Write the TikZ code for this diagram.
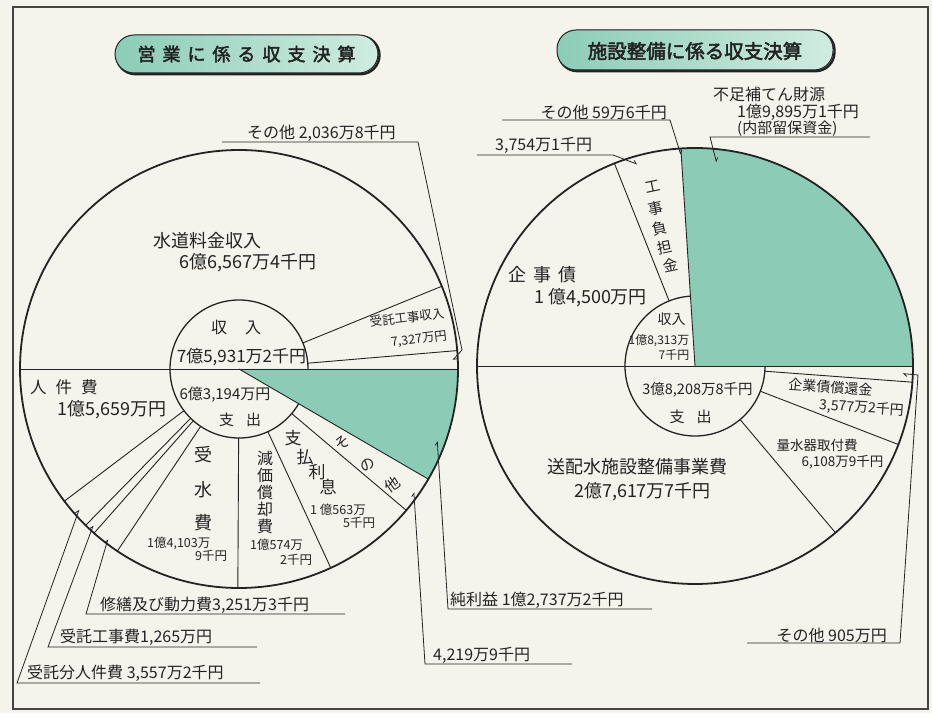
\documentclass[tikz,border=0pt]{standalone}
\usepackage{fontspec}
\setmainfont{Noto Sans CJK JP}
\newfontfamily\titlefont{Noto Sans CJK JP}[FakeBold=2.5]
\usetikzlibrary{calc,arrows.meta}
\definecolor{bg}{RGB}{245,244,236}
\definecolor{tealc}{RGB}{140,204,183}
\definecolor{teall}{RGB}{208,236,224}
\definecolor{ink}{RGB}{35,35,35}
\newcommand\fsz[1]{\fontsize{#1}{#1}\selectfont}
\begin{document}
\begin{tikzpicture}[x=1pt,y=1pt,
  every node/.style={inner sep=0pt, text=ink},
  pieouter/.style={draw=ink, line width=1.8pt},
  pieinner/.style={draw=ink, line width=1.3pt},
  wedge/.style={draw=ink, line width=0.9pt},
  lead/.style={draw=ink, line width=0.8pt},
  tipb/.style={-{Straight Barb[left,length=3pt,width=5pt]}},
  lab/.style={font=\fsz{16}},
  big/.style={font=\fsz{18}},
  mid/.style={font=\fsz{14}},
  small/.style={font=\fsz{13}},
  titlebox/.style={draw=ink, line width=1pt, rounded corners=19pt, left color=tealc, right color=teall},
  titleshadow/.style={draw=ink, line width=2.4pt, rounded corners=19pt}
]
\fill[bg] (0,0) rectangle (932,713);
\useasboundingbox (0,0) rectangle (932,713);
\draw[draw=ink!85, line width=1.2pt] (13,4) rectangle (928,706);

% ---------- titles ----------
\draw[titleshadow] (116.5,638.8) rectangle (379.5,676.8);
\shadedraw[titlebox] (115,640) rectangle (378,678);
\node[font=\titlefont\fsz{18}] (t1) at (246.5,659) {営\hspace{7pt}業\hspace{7pt}に\hspace{7pt}係\hspace{7pt}る\hspace{7pt}収\hspace{7pt}支\hspace{7pt}決\hspace{7pt}算};
\draw[titleshadow] (558.5,641.8) rectangle (834.5,681.8);
\shadedraw[titlebox] (557,643) rectangle (833,683);
\node[font=\titlefont\fsz{19.5}] (t2) at (695,662) {施設整備に係る収支決算};

% ---------- left pie ----------
\coordinate (C1) at (239,344);
\draw[pieinner] (C1) circle[radius=69pt];
\fill[tealc] (C1) -- ($(C1)+(329.807:219)$) arc[start angle=329.807, end angle=360, radius=219pt] -- cycle;
\draw[wedge] (C1) -- ($(C1)+(329.807:219)$);
\draw[wedge] ($(C1)+(180:219)$) -- ($(C1)+(0:219)$);
\foreach \a in {4.828,22.197,217.121,225.554,228.553,236.260,269.695,294.762,319.803}
  \draw[wedge] ($(C1)+(\a:69)$) -- ($(C1)+(\a:219)$);
\draw[pieouter] (C1) circle[radius=219pt];

% left pie texts
\node[big] (suido) at (207.5,472) {水道料金収入};
\node[big] (suidov) at (248,450) {6億6,567万4千円};
\node[font=\fsz{16}] (shunyu1) at (236,386) {収\hspace{18pt}入};
\node[font=\fsz{17}] (shunyu1v) at (241.5,356) {7億5,931万2千円};
\node[font=\fsz{15}] (shishutsu1v) at (225,318) {6億3,194万円};
\node[font=\fsz{15}] (shishutsu1) at (240,293) {支\hspace{12pt}出};
\node[font=\fsz{12.5}, rotate=7] (jutakuk) at (407,395.5) {受託工事収入};
\node[font=\fsz{12.5}, rotate=7] (jutakukv) at (419,373.5) {7,327万円};
\node[font=\fsz{16.5}] (jinken) at (64,326) {人\hspace{9pt}件\hspace{9pt}費};
\node[big] (jinkenv) at (112,303) {1億5,659万円};
\node[big] (ju1) at (203,258) {受};
\node[big] (ju2) at (203,223) {水};
\node[big] (ju3) at (203,190) {費};
\node[font=\fsz{12.5}, anchor=west, align=left] (juv) at (147,164) {1億4,103万\\[-0.5pt]\hspace*{48pt}9千円};
\node[font=\fsz{16}] (ge1) at (265,255) {減};
\node[font=\fsz{16}] (ge2) at (265,238) {価};
\node[font=\fsz{16}] (ge3) at (265,221) {償};
\node[font=\fsz{16}] (ge4) at (265,204) {却};
\node[font=\fsz{16}] (ge5) at (265,187) {費};
\node[font=\fsz{12.5}, anchor=west, align=left] (gev) at (250,160.5) {1億574万\\[2pt]\hspace*{30pt}2千円};
\node[font=\fsz{17}] (sh1) at (293,275) {支};
\node[font=\fsz{17}] (sh2) at (305,256) {払};
\node[font=\fsz{17}] (sh3) at (317,241) {利};
\node[font=\fsz{17}] (sh4) at (328,226) {息};
\node[font=\fsz{12.5}, anchor=west, align=left] (shv) at (310,196.5) {1 億563万\\[0pt]\hspace*{33pt}5千円};
\node[font=\fsz{15}, rotate=35] (so1) at (343,270) {そ};
\node[font=\fsz{15}, rotate=35] (so2) at (368,248) {の};
\node[font=\fsz{15}, rotate=35] (so3) at (392,228) {他};

% left pie leaders
\node[lab, anchor=west] (lbA) at (27,40) {受託分人件費 3,557万2千円};
\coordinate (uAa) at (17,30); \coordinate (uAb) at (260,30);
\draw[lead, tipb] (uAb) -- (uAa) -- ($(C1)+(221.34:213)$);
\node[lab, anchor=west] (lbB) at (60,76) {受託工事費1,265万円};
\coordinate (uBa) at (48,66); \coordinate (uBb) at (257,66);
\draw[lead, tipb] (uBb) -- (uBa) -- ($(C1)+(227.05:214)$);
\node[lab, anchor=west] (lbC) at (100,108) {修繕及び動力費3,251万3千円};
\coordinate (uCa) at (86,99); \coordinate (uCb) at (345,99);
\draw[lead, tipb] (uCb) -- (uCa) -- ($(C1)+(232.41:215)$);
\node[lab, anchor=west] (lbD) at (433,58) {4,219万9千円};
\coordinate (uDa) at (425,49); \coordinate (uDb) at (572,49);
\draw[lead, tipb] (uDb) -- (uDa) -- ($(C1)+(324.8:214)$);
\node[lab, anchor=west] (lbE) at (450,113) {純利益 1億2,737万2千円};
\coordinate (uEa) at (448,104); \coordinate (uEb) at (652,104);
\draw[lead, tipb] (uEb) -- (uEa) -- ($(C1)+(340:211)$);
\node[lab, anchor=west] (lbF) at (247,580) {その他 2,036万8千円};
\coordinate (uFa) at (222,571); \coordinate (uFb) at (418,571); \coordinate (kF) at (462,363);
\draw[lead, tipb] (uFa) -- (uFb) -- (kF) -- ($(C1)+(2.4:214)$);

% ---------- right pie ----------
\coordinate (C2) at (695,347);
\draw[pieinner] (C2) circle[radius=70pt];
\fill[tealc] (C2) -- ($(C2)+(0:218)$) arc[start angle=0, end angle=93.725, radius=218pt] -- cycle;
\draw[wedge] (C2) -- ($(C2)+(93.725:218)$);
\draw[wedge] ($(C2)+(180:218)$) -- ($(C2)+(0:218)$);
\foreach \a in {111.692,310.109,338.888,355.740}
  \draw[wedge] ($(C2)+(\a:70)$) -- ($(C2)+(\a:218)$);
\draw[pieouter] (C2) circle[radius=218pt];

% right pie texts
\node[font=\fsz{15}, rotate=12] (ko1) at (653,526) {工};
\node[font=\fsz{15}, rotate=12] (ko2) at (656,505) {事};
\node[font=\fsz{15}, rotate=12] (ko3) at (660,485) {負};
\node[font=\fsz{15}, rotate=12] (ko4) at (665,466) {担};
\node[font=\fsz{15}, rotate=12] (ko5) at (671,448) {金};
\node[big] (kigyo) at (542.5,438) {企\hspace{7pt}事\hspace{7pt}債};
\node[big] (kigyov) at (590.5,415) {1 億4,500万円};
\node[font=\fsz{14}] (shunyu2) at (671.5,394) {収入};
\node[font=\fsz{12}, anchor=east, align=right] (shunyu2v) at (689.5,365.5) {1億8,313万\\[2pt]7千円};
\node[font=\fsz{14.5}] (shishutsu2v) at (697.5,323) {3億8,208万8千円};
\node[font=\fsz{15}] (shishutsu2) at (690.5,296) {支\hspace{12pt}出};
\node[mid, rotate=-4] (shokan) at (830.5,326) {企業債償還金};
\node[mid, rotate=-4] (shokanv) at (861.5,305) {3,577万2千円};
\node[font=\fsz{13.5}] (ryosui) at (817,268) {量水器取付費};
\node[font=\fsz{13.5}] (ryosuiv) at (842.5,251) {6,108万9千円};
\node[big] (sohai) at (637.5,246) {送配水施設整備事業費};
\node[big] (sohaiv) at (642.5,221) {2億7,617万7千円};

% right pie leaders
\node[lab, anchor=east] (lbG) at (667,601) {その他 59万6千円};
\coordinate (uGa) at (502,593); \coordinate (uGb) at (670,593);
\draw[lead, tipb] (uGa) -- (uGb) -- ($(C2)+(93.86:212)$);
\node[lab, anchor=west] (lbH) at (495,568) {3,754万1千円};
\coordinate (uHa) at (477,558); \coordinate (uHb) at (613,558);
\draw[lead, tipb] (uHa) -- (uHb) -- ($(C2)+(106:210)$);
\node[lab, anchor=west] (lbI1) at (713,618.5) {不足補てん財源};
\node[lab, anchor=west] (lbI2) at (737,601) {1億9,895万1千円};
\node[font=\fsz{15}, anchor=west] (lbI3) at (737,584.5) {(内部留保資金)};
\coordinate (uIa) at (710,576); \coordinate (uIb) at (870,576);
\draw[lead, tipb] (uIb) -- (uIa) -- ($(C2)+(84:205)$);
\node[lab, anchor=east] (lbJ) at (887,78) {その他 905万円};
\coordinate (uJa) at (747,70); \coordinate (uJb) at (900,70); \coordinate (kJ) at (918,338);
\draw[lead, tipb] (uJa) -- (uJb) -- (kJ) -- ($(C2)+(357.9:208)$);
\end{tikzpicture}
\end{document}
